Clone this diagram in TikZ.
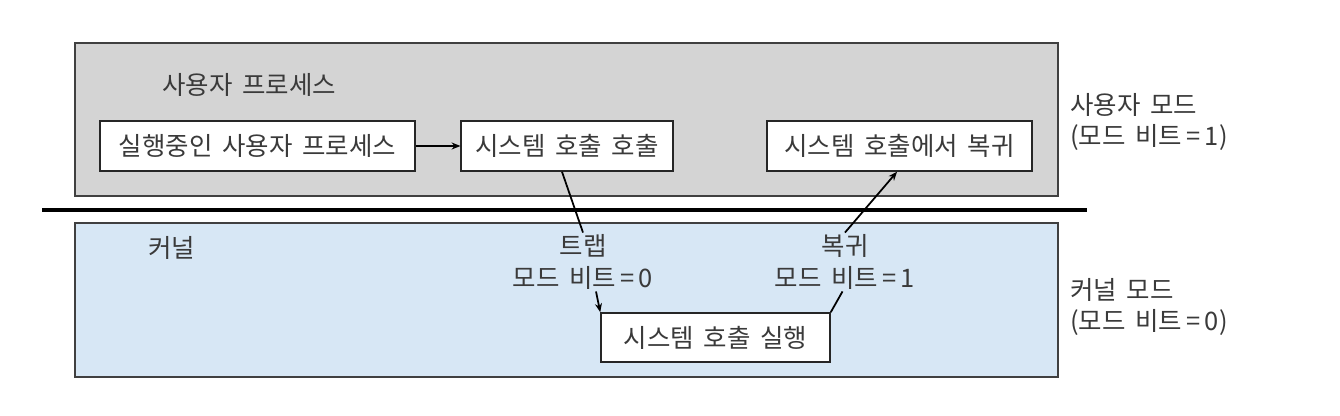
\documentclass[tikz,border=0pt]{standalone}
\usepackage{fontspec}
\setmainfont[WordSpace=1.7]{Noto Sans CJK KR}
\usetikzlibrary{positioning, arrows.meta}

\definecolor{usergray}{HTML}{D4D4D4}
\definecolor{kernelblue}{HTML}{D7E7F5}
\definecolor{textgray}{HTML}{3A3A3A}

\begin{document}
\begin{tikzpicture}[
    x=0.02cm, y=-0.02cm,
    font=\fontsize{14.5}{17}\selectfont, text=textgray,
    modebox/.style={draw=black!75, line width=0.9pt},
    callbox/.style={rectangle, draw=black!85, line width=0.9pt, fill=white, minimum height=1cm, inner xsep=8pt},
    label/.style={align=center, inner sep=1pt},
    arrow/.style={line width=1pt, -{Stealth[length=5pt,width=4pt]}},
    link/.style={line width=1pt}
]
    \useasboundingbox (0,0) rectangle (1340,416);

    % mode regions
    \draw[modebox, fill=usergray] (75,43) rectangle (1058,196);
    \draw[modebox, fill=kernelblue] (75,223) rectangle (1058,377);
    \draw[line width=1.8pt] (42,210) -- (1087,210);

    \node[anchor=west] (userproc) at (156,85) {사용자 프로세스};
    \node[anchor=west] (kernel) at (142,248) {커널};

    % boxes
    \node[callbox, minimum width=6.3cm] (running) at (257.5,146) {실행중인 사용자 프로세스};
    \node[callbox, minimum width=4cm] (callsys) at (567,146) {시스템 호출 호출};
    \node[callbox, minimum width=5.3cm] (retsys) at (899.5,146) {시스템 호출에서 복귀};
    \node[callbox, minimum width=4.58cm, minimum height=0.98cm] (exec) at (715.5,337.5) {시스템 호출 실행};

    % transition labels
    \node[label] (trap) at (583,262) {트랩\\[1pt]모드 비트\,=\,0};
    \node[label] (ret) at (845,262) {복귀\\[1pt]모드 비트\,=\,1};

    % right side
    \node[anchor=west, align=left] (usermode) at (1064,122) {사용자 모드\\[1pt](모드 비트\,=\,1)};
    \node[anchor=west, align=left] (kernelmode) at (1064,307) {커널 모드\\[1pt](모드 비트\,=\,0)};

    % Arrows
    \draw[arrow] (running) -- (callsys);
    \draw[link] (callsys.south -| 562,0) -- (trap.north);
    \draw[arrow] ([xshift=0.26cm]trap.south) -- (exec.north west);
    \draw[link] (exec.north east) -- ([xshift=-0.05cm]ret.south);
    \draw[arrow] (ret.north) -- (retsys.south -| 897,0);
\end{tikzpicture}
\end{document}
